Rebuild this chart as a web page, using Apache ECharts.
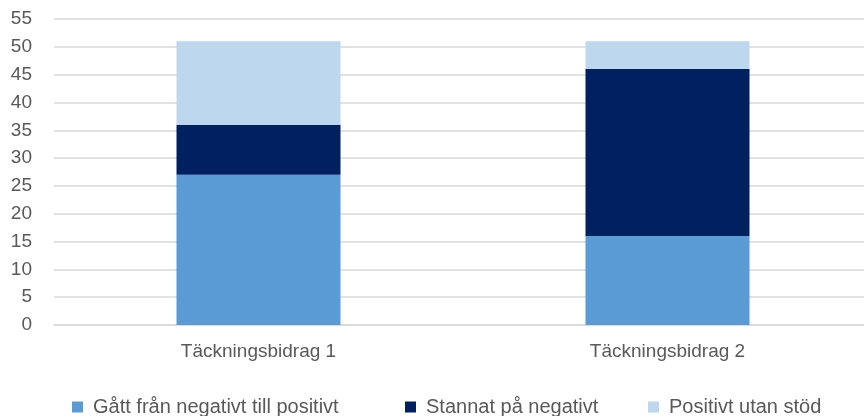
<!DOCTYPE html>
<html>
<head>
<meta charset="utf-8">
<script src="https://cdn.jsdelivr.net/npm/echarts@6/dist/echarts.min.js"></script>
<style>html,body{margin:0;padding:0;background:#fff;overflow:hidden}#c{width:872px;height:416px}</style>
</head>
<body>
<div id="c"></div>
<script>
var categories = ["Täckningsbidrag 1", "Täckningsbidrag 2"];
var seriesNames = ["Gått från negativt till positivt", "Stannat på negativt", "Positivt utan stöd"];
var gattFranNegativt = [27, 16];
var stannatPaNegativt = [9, 30];
var positivtUtanStod = [15, 5];
var colors = ["#5B9BD5", "#002060", "#BDD7EE"];
var yTicks = { min: 0, max: 55, interval: 5 };

var font = "Liberation Sans, Arial, sans-serif";
var chart = echarts.init(document.getElementById('c'), null, { renderer: 'canvas' });
var values = [gattFranNegativt, stannatPaNegativt, positivtUtanStod];
var legendLefts = [72, 405, 648];

chart.setOption({
  animation: false,
  grid: { left: 54, top: 19, right: 0, bottom: 91, containLabel: false },
  xAxis: {
    type: 'category',
    data: categories,
    axisLine: { show: true, lineStyle: { color: '#D9D9D9', width: 1.5 } },
    axisTick: { show: false },
    axisLabel: { color: '#595959', fontSize: 19, fontFamily: font, margin: 17 }
  },
  yAxis: {
    type: 'value',
    min: yTicks.min, max: yTicks.max, interval: yTicks.interval,
    axisLine: { show: false },
    axisTick: { show: false },
    axisLabel: { color: '#595959', fontSize: 19, fontFamily: font, margin: 22 },
    splitLine: { lineStyle: { color: '#D9D9D9', width: 1.5 } }
  },
  legend: seriesNames.map(function (n, i) {
    return {
      data: [n],
      left: legendLefts[i],
      top: 397,
      padding: 0,
      icon: 'rect',
      itemWidth: 11,
      itemHeight: 11,
      itemGap: 0,
      textStyle: { color: '#595959', fontSize: 20, fontFamily: font, padding: [0, 0, 0, 5] }
    };
  }),
  series: seriesNames.map(function (n, i) {
    return {
      name: n,
      type: 'bar',
      stack: 'total',
      barWidth: 164,
      data: values[i],
      itemStyle: { color: colors[i] }
    };
  })
});
</script>
</body>
</html>
